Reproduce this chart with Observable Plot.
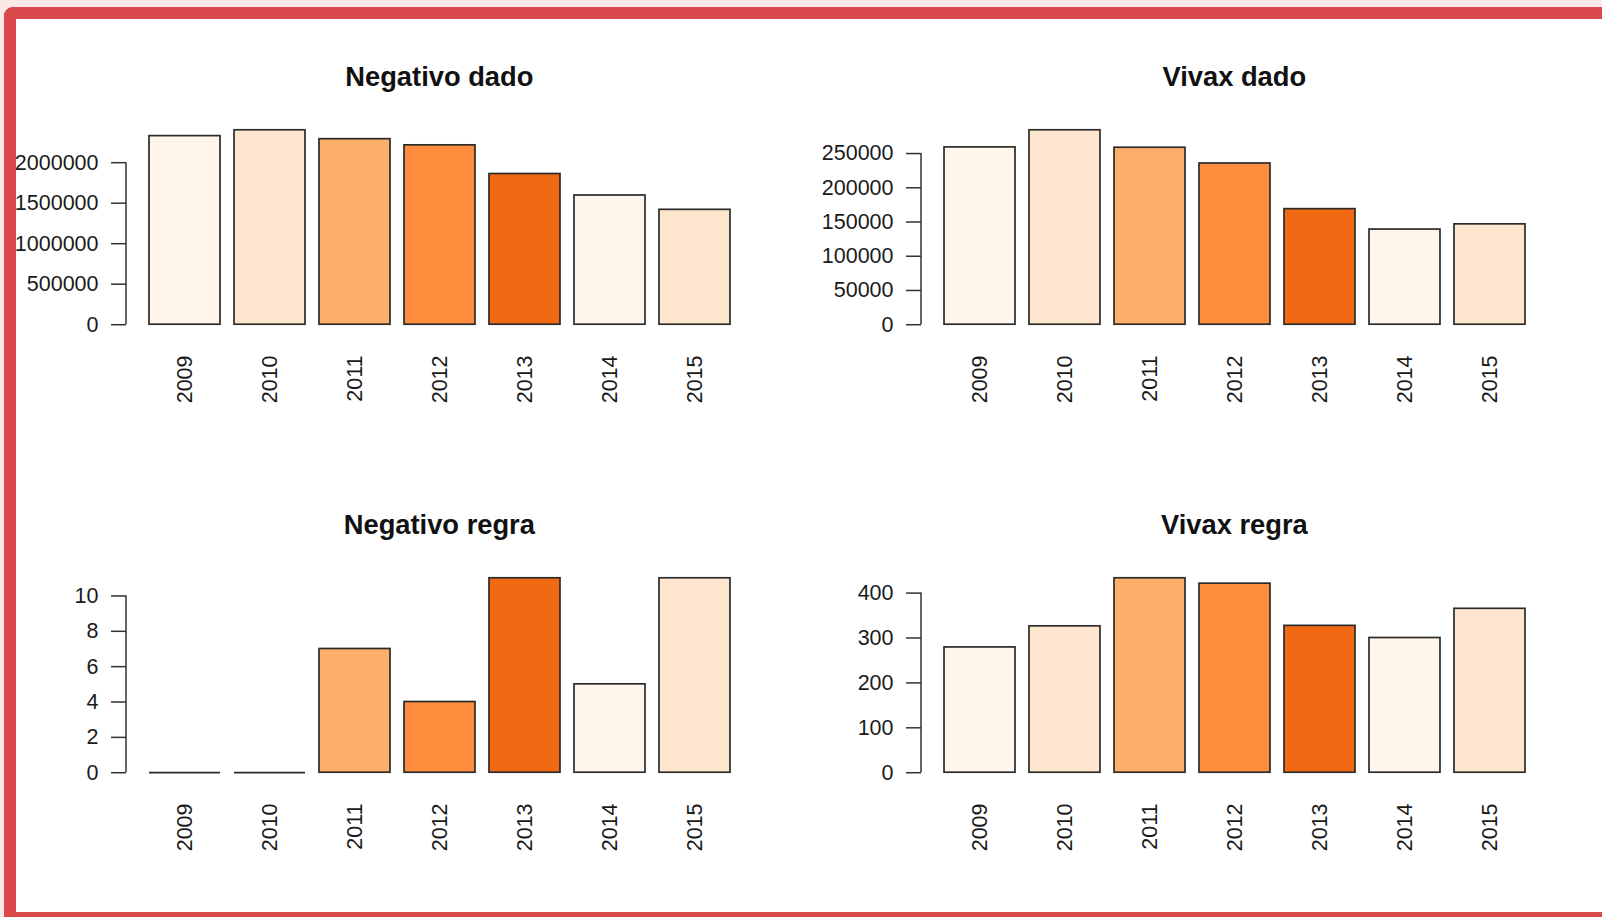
<!DOCTYPE html>
<html>
<head>
<meta charset="utf-8">
<script src="https://cdn.jsdelivr.net/npm/d3@7"></script>
<script src="https://cdn.jsdelivr.net/npm/@observablehq/plot@0.6"></script>
<style>
  html, body { margin: 0; padding: 0; width: 1602px; height: 917px; overflow: hidden; background: #fbe8e8; }
  #box { position: absolute; left: 4px; top: 7px; width: 1700px; height: 950px; background: #ffffff; border-radius: 9px 0 0 0; }
  #frameBorder { position: absolute; left: 4px; top: 7px; width: 1688px; height: 893px; border: 12px solid #d9484a; border-right: none; border-radius: 9px 0 0 0; z-index: 5; pointer-events: none; }
  .panel { position: absolute; }
  .title { position: absolute; width: 600px; text-align: center; font-family: "Liberation Sans", Arial, sans-serif; font-weight: bold; font-size: 27.3px; line-height: 27px; color: #111; }
</style>
</head>
<body>
<div id="box"></div>
<div id="frameBorder"></div>
<script>
// ---- data ----
const years = ["2009", "2010", "2011", "2012", "2013", "2014", "2015"];
const negativoDado = [2328000, 2400000, 2290000, 2214000, 1860000, 1595000, 1418000];
const vivaxDado = [259000, 284000, 258500, 235500, 168800, 139000, 146600];
const negativoRegra = [0, 0, 7, 4, 11, 5, 11];
const vivaxRegra = [279, 326, 433, 421, 327, 300, 365];
const palette = ["#fff5eb", "#fee6ce", "#fdae6b", "#fd8d3c", "#f16913"];
const ticksNegativoDado = [0, 500000, 1000000, 1500000, 2000000];
const ticksVivaxDado = [0, 50000, 100000, 150000, 200000, 250000];
const ticksNegativoRegra = [0, 2, 4, 6, 8, 10];
const ticksVivaxRegra = [0, 100, 200, 300, 400];
const titles = ["Negativo dado", "Vivax dado", "Negativo regra", "Vivax regra"];

const panels = [
  {title: titles[0], values: negativoDado, ticks: ticksNegativoDado, col: 0, row: 0},
  {title: titles[1], values: vivaxDado, ticks: ticksVivaxDado, col: 1, row: 0},
  {title: titles[2], values: negativoRegra, ticks: ticksNegativoRegra, col: 0, row: 1},
  {title: titles[3], values: vivaxRegra, ticks: ticksVivaxRegra, col: 1, row: 1}
];

// ---- layout ----
const FONT = '"Liberation Sans", Arial, sans-serif';
const frameW = 627.3, frameH = 210;
const mL = 112, mR = 30, mT = 20, mB = 92;

function axisLine(ticks) {
  return (index, scales, values, dimensions) => {
    const ns = "http://www.w3.org/2000/svg";
    const g = document.createElementNS(ns, "g");
    const l = document.createElementNS(ns, "line");
    const x = dimensions.marginLeft;
    l.setAttribute("x1", x); l.setAttribute("x2", x);
    l.setAttribute("y1", scales.y(d3.min(ticks)));
    l.setAttribute("y2", scales.y(d3.max(ticks)));
    l.setAttribute("stroke", "#333");
    l.setAttribute("stroke-width", 1.5);
    g.appendChild(l);
    return g;
  };
}

for (const p of panels) {
  const data = years.map((y, i) => ({year: y, value: p.values[i], color: palette[i % palette.length]}));
  const M = d3.max(p.values);
  const chart = Plot.plot({
    width: mL + frameW + mR,
    height: mT + frameH + mB,
    marginLeft: mL, marginRight: mR, marginTop: mT, marginBottom: mB,
    style: {fontFamily: FONT, fontSize: "21.5px", color: "#1a1a1a", background: "transparent", overflow: "visible"},
    x: {type: "band", domain: years, paddingInner: 1 / 6, paddingOuter: 0.249, align: 0.5, label: null},
    y: {domain: [-0.04 * M, 1.04 * M], label: null},
    marks: [
      Plot.rectY(data, {x: "year", y: "value", fill: "color", stroke: "#2b2b2b", strokeWidth: 1.7}),
      Plot.ruleY(data.filter(d => d.value === 0), {x1: "year", x2: "year", y: "value", stroke: "#2b2b2b", strokeWidth: 1.7}),
      Plot.axisY({ticks: p.ticks, tickSize: 15, tickPadding: 13, tickFormat: d => String(d), fontSize: 21.5, label: null, stroke: "#333", strokeWidth: 1.5}),
      axisLine(p.ticks),
      Plot.axisX({tickSize: 0, tickRotate: -90, tickPadding: 23, fontSize: 21.5, label: null})
    ]
  });
  const frameLeft = 125.7 + 795 * p.col;
  const zeroY = 324 + 448.4 * p.row;
  const frameTop = zeroY - 1.04 * (frameH / 1.08);
  chart.classList.add("panel");
  chart.style.left = (frameLeft - mL) + "px";
  chart.style.top = (frameTop - mT) + "px";
  chart.style.position = "absolute";
  document.body.appendChild(chart);

  const t = document.createElement("div");
  t.className = "title";
  t.textContent = p.title;
  t.style.left = (frameLeft + frameW / 2 - 300) + "px";
  t.style.top = (62.5 + 448.4 * p.row) + "px";
  document.body.appendChild(t);
}
</script>
</body>
</html>
